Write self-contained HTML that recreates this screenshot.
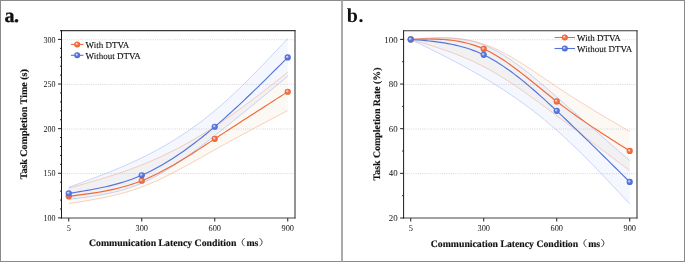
<!DOCTYPE html>
<html><head><meta charset="utf-8">
<style>
html,body{margin:0;padding:0;background:#fff;}
#wrap{position:relative;will-change:transform;width:685px;height:262px;overflow:hidden;background:#fff;}
svg{position:absolute;left:0;top:0;}
text{font-family:"Liberation Serif",serif;fill:#111;text-rendering:geometricPrecision;}
.tk{font-size:8px;}
.lg{font-size:9px;stroke:#111;stroke-width:0.1px;}
.al{font-size:10px;font-weight:bold;stroke:#111;stroke-width:0.15px;}
.xl{font-size:9.75px;}
.pl{font-size:20px;font-weight:bold;}
</style></head><body>
<div id="wrap">
<svg width="685" height="262" viewBox="0 0 685 262">
<rect x="0.5" y="0.5" width="684" height="261" fill="none" stroke="#8a8a8a" stroke-width="1"/>
<line x1="342.0" y1="0" x2="342.0" y2="262" stroke="#9c9c9c" stroke-width="1.7"/>
<text x="4.5" y="21.8" class="pl" stroke="#111" stroke-width="0.3"><tspan>a</tspan><tspan dx="-0.6">.</tspan></text>
<text x="346.7" y="21.8" class="pl"><tspan>b</tspan><tspan dx="0.6">.</tspan></text>
<defs>
<radialGradient id="g_orange" cx="0.5" cy="0.5" r="0.5" fx="0.36" fy="0.34">
<stop offset="0" stop-color="#FFFFFF"/><stop offset="0.22" stop-color="#F8B79E"/><stop offset="0.5" stop-color="#F27448"/><stop offset="1" stop-color="#EA5E2E"/>
</radialGradient>
<radialGradient id="g_blue" cx="0.5" cy="0.5" r="0.5" fx="0.36" fy="0.34">
<stop offset="0" stop-color="#FFFFFF"/><stop offset="0.22" stop-color="#AFC0F2"/><stop offset="0.5" stop-color="#5B7BE2"/><stop offset="1" stop-color="#4868D6"/>
</radialGradient>
</defs>
<line x1="62.5" y1="173.62" x2="294.0" y2="173.62" stroke="#D6D6D6" stroke-width="1" stroke-dasharray="1 1.2"/>
<line x1="62.5" y1="129.00" x2="294.0" y2="129.00" stroke="#D6D6D6" stroke-width="1" stroke-dasharray="1 1.2"/>
<line x1="62.5" y1="84.38" x2="294.0" y2="84.38" stroke="#D6D6D6" stroke-width="1" stroke-dasharray="1 1.2"/>
<line x1="62.5" y1="39.75" x2="294.0" y2="39.75" stroke="#D6D6D6" stroke-width="1" stroke-dasharray="1 1.2"/>
<path d="M68.75 187.29 L72.46 185.94 L76.17 184.60 L79.89 183.25 L83.60 181.89 L87.31 180.52 L91.02 179.14 L94.73 177.75 L98.44 176.34 L102.16 174.91 L105.87 173.46 L109.58 171.98 L113.29 170.48 L117.00 168.95 L120.72 167.39 L124.43 165.79 L128.14 164.16 L131.85 162.49 L135.56 160.78 L139.28 159.03 L142.99 157.23 L146.70 155.38 L150.41 153.49 L154.12 151.54 L157.83 149.54 L161.55 147.48 L165.26 145.36 L168.97 143.19 L172.68 140.95 L176.39 138.65 L180.11 136.29 L183.82 133.86 L187.53 131.35 L191.24 128.78 L194.95 126.14 L198.67 123.42 L202.38 120.62 L206.09 117.74 L209.80 114.78 L213.51 111.74 L217.22 108.62 L220.94 105.41 L224.65 102.12 L228.36 98.76 L232.07 95.34 L235.78 91.84 L239.50 88.29 L243.21 84.67 L246.92 81.01 L250.63 77.30 L254.34 73.54 L258.06 69.75 L261.77 65.92 L265.48 62.06 L269.19 58.17 L272.90 54.27 L276.61 50.34 L280.33 46.40 L284.04 42.46 L287.75 38.51 L287.75 76.26 L284.04 79.33 L280.33 82.40 L276.61 85.47 L272.90 88.54 L269.19 91.60 L265.48 94.66 L261.77 97.71 L258.06 100.76 L254.34 103.80 L250.63 106.83 L246.92 109.86 L243.21 112.88 L239.50 115.88 L235.78 118.88 L232.07 121.86 L228.36 124.83 L224.65 127.79 L220.94 130.74 L217.22 133.67 L213.51 136.58 L209.80 139.48 L206.09 142.35 L202.38 145.19 L198.67 148.00 L194.95 150.78 L191.24 153.51 L187.53 156.19 L183.82 158.81 L180.11 161.38 L176.39 163.88 L172.68 166.31 L168.97 168.67 L165.26 170.95 L161.55 173.14 L157.83 175.24 L154.12 177.25 L150.41 179.15 L146.70 180.95 L142.99 182.64 L139.28 184.22 L135.56 185.68 L131.85 187.03 L128.14 188.28 L124.43 189.44 L120.72 190.50 L117.00 191.48 L113.29 192.39 L109.58 193.22 L105.87 193.98 L102.16 194.69 L98.44 195.34 L94.73 195.95 L91.02 196.51 L87.31 197.03 L83.60 197.53 L79.89 198.00 L76.17 198.46 L72.46 198.90 L68.75 199.34 Z" fill="rgba(100,140,220,0.07)" stroke="none"/>
<path d="M68.75 188.18 L72.46 187.15 L76.17 186.11 L79.89 185.07 L83.60 184.02 L87.31 182.96 L91.02 181.89 L94.73 180.81 L98.44 179.71 L102.16 178.59 L105.87 177.45 L109.58 176.29 L113.29 175.10 L117.00 173.88 L120.72 172.64 L124.43 171.36 L128.14 170.04 L131.85 168.69 L135.56 167.30 L139.28 165.87 L142.99 164.39 L146.70 162.86 L150.41 161.29 L154.12 159.68 L157.83 158.01 L161.55 156.30 L165.26 154.54 L168.97 152.74 L172.68 150.89 L176.39 148.99 L180.11 147.04 L183.82 145.04 L187.53 143.00 L191.24 140.91 L194.95 138.76 L198.67 136.57 L202.38 134.33 L206.09 132.04 L209.80 129.70 L213.51 127.32 L217.22 124.88 L220.94 122.39 L224.65 119.86 L228.36 117.28 L232.07 114.66 L235.78 112.01 L239.50 109.32 L243.21 106.59 L246.92 103.84 L250.63 101.05 L254.34 98.25 L258.06 95.41 L261.77 92.56 L265.48 89.69 L269.19 86.81 L272.90 83.91 L276.61 81.00 L280.33 78.09 L284.04 75.17 L287.75 72.24 L287.75 110.53 L284.04 112.49 L280.33 114.44 L276.61 116.40 L272.90 118.36 L269.19 120.32 L265.48 122.28 L261.77 124.25 L258.06 126.22 L254.34 128.20 L250.63 130.19 L246.92 132.18 L243.21 134.17 L239.50 136.18 L235.78 138.19 L232.07 140.22 L228.36 142.25 L224.65 144.30 L220.94 146.35 L217.22 148.42 L213.51 150.50 L209.80 152.59 L206.09 154.68 L202.38 156.78 L198.67 158.88 L194.95 160.96 L191.24 163.04 L187.53 165.09 L183.82 167.12 L180.11 169.13 L176.39 171.10 L172.68 173.03 L168.97 174.92 L165.26 176.77 L161.55 178.56 L157.83 180.29 L154.12 181.96 L150.41 183.57 L146.70 185.10 L142.99 186.55 L139.28 187.93 L135.56 189.22 L131.85 190.44 L128.14 191.58 L124.43 192.66 L120.72 193.67 L117.00 194.62 L113.29 195.52 L109.58 196.37 L105.87 197.17 L102.16 197.92 L98.44 198.64 L94.73 199.33 L91.02 199.98 L87.31 200.61 L83.60 201.22 L79.89 201.81 L76.17 202.39 L72.46 202.96 L68.75 203.53 Z" fill="rgba(215,160,110,0.08)" stroke="none"/>
<path d="M68.75 187.29 L72.46 185.94 L76.17 184.60 L79.89 183.25 L83.60 181.89 L87.31 180.52 L91.02 179.14 L94.73 177.75 L98.44 176.34 L102.16 174.91 L105.87 173.46 L109.58 171.98 L113.29 170.48 L117.00 168.95 L120.72 167.39 L124.43 165.79 L128.14 164.16 L131.85 162.49 L135.56 160.78 L139.28 159.03 L142.99 157.23 L146.70 155.38 L150.41 153.49 L154.12 151.54 L157.83 149.54 L161.55 147.48 L165.26 145.36 L168.97 143.19 L172.68 140.95 L176.39 138.65 L180.11 136.29 L183.82 133.86 L187.53 131.35 L191.24 128.78 L194.95 126.14 L198.67 123.42 L202.38 120.62 L206.09 117.74 L209.80 114.78 L213.51 111.74 L217.22 108.62 L220.94 105.41 L224.65 102.12 L228.36 98.76 L232.07 95.34 L235.78 91.84 L239.50 88.29 L243.21 84.67 L246.92 81.01 L250.63 77.30 L254.34 73.54 L258.06 69.75 L261.77 65.92 L265.48 62.06 L269.19 58.17 L272.90 54.27 L276.61 50.34 L280.33 46.40 L284.04 42.46 L287.75 38.51" fill="none" stroke="#A8BBF0" stroke-width="0.6"/>
<path d="M68.75 199.34 L72.46 198.90 L76.17 198.46 L79.89 198.00 L83.60 197.53 L87.31 197.03 L91.02 196.51 L94.73 195.95 L98.44 195.34 L102.16 194.69 L105.87 193.98 L109.58 193.22 L113.29 192.39 L117.00 191.48 L120.72 190.50 L124.43 189.44 L128.14 188.28 L131.85 187.03 L135.56 185.68 L139.28 184.22 L142.99 182.64 L146.70 180.95 L150.41 179.15 L154.12 177.25 L157.83 175.24 L161.55 173.14 L165.26 170.95 L168.97 168.67 L172.68 166.31 L176.39 163.88 L180.11 161.38 L183.82 158.81 L187.53 156.19 L191.24 153.51 L194.95 150.78 L198.67 148.00 L202.38 145.19 L206.09 142.35 L209.80 139.48 L213.51 136.58 L217.22 133.67 L220.94 130.74 L224.65 127.79 L228.36 124.83 L232.07 121.86 L235.78 118.88 L239.50 115.88 L243.21 112.88 L246.92 109.86 L250.63 106.83 L254.34 103.80 L258.06 100.76 L261.77 97.71 L265.48 94.66 L269.19 91.60 L272.90 88.54 L276.61 85.47 L280.33 82.40 L284.04 79.33 L287.75 76.26" fill="none" stroke="#A8BBF0" stroke-width="0.6"/>
<path d="M68.75 188.18 L72.46 187.15 L76.17 186.11 L79.89 185.07 L83.60 184.02 L87.31 182.96 L91.02 181.89 L94.73 180.81 L98.44 179.71 L102.16 178.59 L105.87 177.45 L109.58 176.29 L113.29 175.10 L117.00 173.88 L120.72 172.64 L124.43 171.36 L128.14 170.04 L131.85 168.69 L135.56 167.30 L139.28 165.87 L142.99 164.39 L146.70 162.86 L150.41 161.29 L154.12 159.68 L157.83 158.01 L161.55 156.30 L165.26 154.54 L168.97 152.74 L172.68 150.89 L176.39 148.99 L180.11 147.04 L183.82 145.04 L187.53 143.00 L191.24 140.91 L194.95 138.76 L198.67 136.57 L202.38 134.33 L206.09 132.04 L209.80 129.70 L213.51 127.32 L217.22 124.88 L220.94 122.39 L224.65 119.86 L228.36 117.28 L232.07 114.66 L235.78 112.01 L239.50 109.32 L243.21 106.59 L246.92 103.84 L250.63 101.05 L254.34 98.25 L258.06 95.41 L261.77 92.56 L265.48 89.69 L269.19 86.81 L272.90 83.91 L276.61 81.00 L280.33 78.09 L284.04 75.17 L287.75 72.24" fill="none" stroke="#F4B094" stroke-width="0.6"/>
<path d="M68.75 203.53 L72.46 202.96 L76.17 202.39 L79.89 201.81 L83.60 201.22 L87.31 200.61 L91.02 199.98 L94.73 199.33 L98.44 198.64 L102.16 197.92 L105.87 197.17 L109.58 196.37 L113.29 195.52 L117.00 194.62 L120.72 193.67 L124.43 192.66 L128.14 191.58 L131.85 190.44 L135.56 189.22 L139.28 187.93 L142.99 186.55 L146.70 185.10 L150.41 183.57 L154.12 181.96 L157.83 180.29 L161.55 178.56 L165.26 176.77 L168.97 174.92 L172.68 173.03 L176.39 171.10 L180.11 169.13 L183.82 167.12 L187.53 165.09 L191.24 163.04 L194.95 160.96 L198.67 158.88 L202.38 156.78 L206.09 154.68 L209.80 152.59 L213.51 150.50 L217.22 148.42 L220.94 146.35 L224.65 144.30 L228.36 142.25 L232.07 140.22 L235.78 138.19 L239.50 136.18 L243.21 134.17 L246.92 132.18 L250.63 130.19 L254.34 128.20 L258.06 126.22 L261.77 124.25 L265.48 122.28 L269.19 120.32 L272.90 118.36 L276.61 116.40 L280.33 114.44 L284.04 112.49 L287.75 110.53" fill="none" stroke="#F4B094" stroke-width="0.6"/>
<path d="M68.75 193.40 L72.46 192.82 L76.17 192.23 L79.89 191.63 L83.60 191.01 L87.31 190.38 L91.02 189.72 L94.73 189.02 L98.44 188.29 L102.16 187.52 L105.87 186.69 L109.58 185.82 L113.29 184.89 L117.00 183.89 L120.72 182.83 L124.43 181.69 L128.14 180.47 L131.85 179.17 L135.56 177.77 L139.28 176.29 L142.99 174.70 L146.70 173.01 L150.41 171.21 L154.12 169.32 L157.83 167.34 L161.55 165.26 L165.26 163.09 L168.97 160.83 L172.68 158.49 L176.39 156.06 L180.11 153.56 L183.82 150.97 L187.53 148.31 L191.24 145.58 L194.95 142.77 L198.67 139.90 L202.38 136.96 L206.09 133.96 L209.80 130.90 L213.51 127.78 L217.22 124.61 L220.94 121.38 L224.65 118.10 L228.36 114.78 L232.07 111.41 L235.78 108.00 L239.50 104.55 L243.21 101.06 L246.92 97.54 L250.63 94.00 L254.34 90.42 L258.06 86.82 L261.77 83.19 L265.48 79.55 L269.19 75.89 L272.90 72.21 L276.61 68.52 L280.33 64.83 L284.04 61.13 L287.75 57.43" fill="none" stroke="#5474DC" stroke-width="1.15"/>
<path d="M68.75 196.30 L72.46 195.85 L76.17 195.39 L79.89 194.92 L83.60 194.43 L87.31 193.93 L91.02 193.39 L94.73 192.83 L98.44 192.23 L102.16 191.58 L105.87 190.89 L109.58 190.15 L113.29 189.35 L117.00 188.49 L120.72 187.55 L124.43 186.55 L128.14 185.46 L131.85 184.29 L135.56 183.04 L139.28 181.68 L142.99 180.23 L146.70 178.68 L150.41 177.03 L154.12 175.29 L157.83 173.47 L161.55 171.56 L165.26 169.58 L168.97 167.54 L172.68 165.43 L176.39 163.26 L180.11 161.05 L183.82 158.78 L187.53 156.48 L191.24 154.14 L194.95 151.77 L198.67 149.37 L202.38 146.96 L206.09 144.54 L209.80 142.11 L213.51 139.67 L217.22 137.24 L220.94 134.81 L224.65 132.39 L228.36 129.98 L232.07 127.56 L235.78 125.16 L239.50 122.75 L243.21 120.35 L246.92 117.96 L250.63 115.56 L254.34 113.17 L258.06 110.78 L261.77 108.40 L265.48 106.01 L269.19 103.63 L272.90 101.25 L276.61 98.87 L280.33 96.49 L284.04 94.11 L287.75 91.73" fill="none" stroke="#F06838" stroke-width="1.15"/>
<circle cx="68.75" cy="196.30" r="3.1" fill="url(#g_orange)"/>
<circle cx="141.75" cy="180.73" r="3.1" fill="url(#g_orange)"/>
<circle cx="214.75" cy="138.86" r="3.1" fill="url(#g_orange)"/>
<circle cx="287.75" cy="91.73" r="3.1" fill="url(#g_orange)"/>
<circle cx="68.75" cy="193.40" r="3.1" fill="url(#g_blue)"/>
<circle cx="141.75" cy="175.24" r="3.1" fill="url(#g_blue)"/>
<circle cx="214.75" cy="126.73" r="3.1" fill="url(#g_blue)"/>
<circle cx="287.75" cy="57.43" r="3.1" fill="url(#g_blue)"/>
<line x1="60.00" y1="30.60" x2="295.50" y2="30.60" stroke="#3a3a3a" stroke-width="1.1"/>
<line x1="295.00" y1="30.10" x2="295.00" y2="218.50" stroke="#3a3a3a" stroke-width="1.1"/>
<line x1="61.00" y1="218.00" x2="295.50" y2="218.00" stroke="#444" stroke-width="1"/>
<line x1="61.50" y1="30.10" x2="61.50" y2="218.50" stroke="#1a1a1a" stroke-width="1"/>
<line x1="58.0" y1="217.90" x2="61.5" y2="217.90" stroke="#222" stroke-width="1"/>
<text transform="translate(55.5 217.95) scale(1.000 1.12)" y="2.75" class="tk" text-anchor="end">100</text>
<line x1="60.0" y1="208.97" x2="61.5" y2="208.97" stroke="#222" stroke-width="1"/>
<line x1="60.0" y1="200.05" x2="61.5" y2="200.05" stroke="#222" stroke-width="1"/>
<line x1="60.0" y1="191.12" x2="61.5" y2="191.12" stroke="#222" stroke-width="1"/>
<line x1="60.0" y1="182.20" x2="61.5" y2="182.20" stroke="#222" stroke-width="1"/>
<line x1="58.0" y1="173.28" x2="61.5" y2="173.28" stroke="#222" stroke-width="1"/>
<text transform="translate(55.5 173.33) scale(1.000 1.12)" y="2.75" class="tk" text-anchor="end">150</text>
<line x1="60.0" y1="164.35" x2="61.5" y2="164.35" stroke="#222" stroke-width="1"/>
<line x1="60.0" y1="155.43" x2="61.5" y2="155.43" stroke="#222" stroke-width="1"/>
<line x1="60.0" y1="146.50" x2="61.5" y2="146.50" stroke="#222" stroke-width="1"/>
<line x1="60.0" y1="137.57" x2="61.5" y2="137.57" stroke="#222" stroke-width="1"/>
<line x1="58.0" y1="128.65" x2="61.5" y2="128.65" stroke="#222" stroke-width="1"/>
<text transform="translate(55.5 128.70) scale(1.000 1.12)" y="2.75" class="tk" text-anchor="end">200</text>
<line x1="60.0" y1="119.73" x2="61.5" y2="119.73" stroke="#222" stroke-width="1"/>
<line x1="60.0" y1="110.80" x2="61.5" y2="110.80" stroke="#222" stroke-width="1"/>
<line x1="60.0" y1="101.88" x2="61.5" y2="101.88" stroke="#222" stroke-width="1"/>
<line x1="60.0" y1="92.95" x2="61.5" y2="92.95" stroke="#222" stroke-width="1"/>
<line x1="58.0" y1="84.03" x2="61.5" y2="84.03" stroke="#222" stroke-width="1"/>
<text transform="translate(55.5 84.08) scale(1.000 1.12)" y="2.75" class="tk" text-anchor="end">250</text>
<line x1="60.0" y1="75.10" x2="61.5" y2="75.10" stroke="#222" stroke-width="1"/>
<line x1="60.0" y1="66.18" x2="61.5" y2="66.18" stroke="#222" stroke-width="1"/>
<line x1="60.0" y1="57.25" x2="61.5" y2="57.25" stroke="#222" stroke-width="1"/>
<line x1="60.0" y1="48.33" x2="61.5" y2="48.33" stroke="#222" stroke-width="1"/>
<line x1="58.0" y1="39.40" x2="61.5" y2="39.40" stroke="#222" stroke-width="1"/>
<text transform="translate(55.5 39.45) scale(1.000 1.12)" y="2.75" class="tk" text-anchor="end">300</text>
<line x1="68.75" y1="218.0" x2="68.75" y2="221.5" stroke="#222" stroke-width="1"/>
<text transform="translate(68.75 227.60) scale(1.04 1.12)" y="2.75" class="tk" text-anchor="middle">5</text>
<line x1="141.75" y1="218.0" x2="141.75" y2="221.5" stroke="#222" stroke-width="1"/>
<text transform="translate(141.75 227.60) scale(1.04 1.12)" y="2.75" class="tk" text-anchor="middle">300</text>
<line x1="214.75" y1="218.0" x2="214.75" y2="221.5" stroke="#222" stroke-width="1"/>
<text transform="translate(214.75 227.60) scale(1.04 1.12)" y="2.75" class="tk" text-anchor="middle">600</text>
<line x1="287.75" y1="218.0" x2="287.75" y2="221.5" stroke="#222" stroke-width="1"/>
<text transform="translate(287.75 227.60) scale(1.04 1.12)" y="2.75" class="tk" text-anchor="middle">900</text>
<text x="89.00" y="246.20" class="al xl">Communication Latency Condition</text>
<text x="246.40" y="246.20" class="al xl">ms</text>
<path d="M244.60 238.20 Q239.40 242.20 244.60 246.20" fill="none" stroke="#333" stroke-width="0.9"/>
<path d="M259.60 238.20 Q264.80 242.20 259.60 246.20" fill="none" stroke="#333" stroke-width="0.9"/>
<text transform="translate(26.9 124.30) rotate(-90)" class="al" text-anchor="middle" style="font-size:10.00px">Task Completion Time (s)</text>
<line x1="70.9" y1="44.4" x2="83.5" y2="44.4" stroke="#F06838" stroke-width="1.1"/>
<circle cx="77.2" cy="44.4" r="3.0" fill="url(#g_orange)"/>
<text x="85.50" y="47.80" class="lg">With DTVA</text>
<line x1="70.9" y1="55.3" x2="83.5" y2="55.3" stroke="#5474DC" stroke-width="1.1"/>
<circle cx="77.2" cy="55.3" r="3.0" fill="url(#g_blue)"/>
<text x="85.50" y="58.75" class="lg">Without DTVA</text>
<line x1="404.6" y1="173.70" x2="636.0" y2="173.70" stroke="#D6D6D6" stroke-width="1" stroke-dasharray="1 1.2"/>
<line x1="404.6" y1="129.05" x2="636.0" y2="129.05" stroke="#D6D6D6" stroke-width="1" stroke-dasharray="1 1.2"/>
<line x1="404.6" y1="84.40" x2="636.0" y2="84.40" stroke="#D6D6D6" stroke-width="1" stroke-dasharray="1 1.2"/>
<line x1="404.6" y1="39.75" x2="636.0" y2="39.75" stroke="#D6D6D6" stroke-width="1" stroke-dasharray="1 1.2"/>
<path d="M410.72 39.40 L414.43 39.10 L418.14 38.80 L421.86 38.52 L425.57 38.27 L429.28 38.06 L432.99 37.89 L436.70 37.78 L440.41 37.73 L444.13 37.75 L447.84 37.86 L451.55 38.06 L455.26 38.36 L458.97 38.77 L462.69 39.30 L466.40 39.95 L470.11 40.75 L473.82 41.69 L477.53 42.78 L481.25 44.04 L484.96 45.48 L488.67 47.09 L492.38 48.87 L496.09 50.81 L499.80 52.89 L503.52 55.12 L507.23 57.48 L510.94 59.96 L514.65 62.55 L518.36 65.25 L522.08 68.04 L525.79 70.92 L529.50 73.88 L533.21 76.90 L536.92 79.98 L540.64 83.10 L544.35 86.27 L548.06 89.47 L551.77 92.69 L555.48 95.92 L559.19 99.16 L562.91 102.39 L566.62 105.63 L570.33 108.86 L574.04 112.10 L577.75 115.33 L581.47 118.57 L585.18 121.80 L588.89 125.04 L592.60 128.27 L596.31 131.51 L600.03 134.74 L603.74 137.98 L607.45 141.21 L611.16 144.45 L614.87 147.68 L618.58 150.92 L622.30 154.15 L626.01 157.39 L629.72 160.62 L629.72 203.94 L626.01 199.95 L622.30 195.98 L618.58 192.01 L614.87 188.05 L611.16 184.10 L607.45 180.18 L603.74 176.27 L600.03 172.40 L596.31 168.55 L592.60 164.73 L588.89 160.95 L585.18 157.21 L581.47 153.51 L577.75 149.87 L574.04 146.27 L570.33 142.73 L566.62 139.24 L562.91 135.82 L559.19 132.46 L555.48 129.17 L551.77 125.96 L548.06 122.81 L544.35 119.73 L540.64 116.72 L536.92 113.77 L533.21 110.89 L529.50 108.06 L525.79 105.30 L522.08 102.59 L518.36 99.94 L514.65 97.34 L510.94 94.80 L507.23 92.30 L503.52 89.86 L499.80 87.46 L496.09 85.11 L492.38 82.80 L488.67 80.53 L484.96 78.31 L481.25 76.12 L477.53 73.97 L473.82 71.86 L470.11 69.78 L466.40 67.73 L462.69 65.71 L458.97 63.72 L455.26 61.75 L451.55 59.80 L447.84 57.88 L444.13 55.98 L440.41 54.09 L436.70 52.22 L432.99 50.36 L429.28 48.52 L425.57 46.68 L421.86 44.86 L418.14 43.03 L414.43 41.22 L410.72 39.40 Z" fill="rgba(100,140,220,0.07)" stroke="none"/>
<path d="M410.72 39.40 L414.43 39.13 L418.14 38.87 L421.86 38.63 L425.57 38.41 L429.28 38.22 L432.99 38.07 L436.70 37.97 L440.41 37.92 L444.13 37.94 L447.84 38.02 L451.55 38.19 L455.26 38.44 L458.97 38.79 L462.69 39.24 L466.40 39.79 L470.11 40.47 L473.82 41.27 L477.53 42.21 L481.25 43.29 L484.96 44.51 L488.67 45.89 L492.38 47.41 L496.09 49.06 L499.80 50.84 L503.52 52.73 L507.23 54.73 L510.94 56.82 L514.65 58.99 L518.36 61.24 L522.08 63.56 L525.79 65.94 L529.50 68.36 L533.21 70.83 L536.92 73.32 L540.64 75.83 L544.35 78.36 L548.06 80.88 L551.77 83.40 L555.48 85.90 L559.19 88.37 L562.91 90.82 L566.62 93.24 L570.33 95.63 L574.04 97.99 L577.75 100.34 L581.47 102.66 L585.18 104.96 L588.89 107.25 L592.60 109.51 L596.31 111.77 L600.03 114.01 L603.74 116.23 L607.45 118.45 L611.16 120.65 L614.87 122.85 L618.58 125.05 L622.30 127.23 L626.01 129.42 L629.72 131.60 L629.72 170.67 L626.01 167.87 L622.30 165.08 L618.58 162.28 L614.87 159.48 L611.16 156.69 L607.45 153.89 L603.74 151.10 L600.03 148.30 L596.31 145.51 L592.60 142.71 L588.89 139.92 L585.18 137.13 L581.47 134.34 L577.75 131.54 L574.04 128.75 L570.33 125.97 L566.62 123.18 L562.91 120.39 L559.19 117.61 L555.48 114.82 L551.77 112.04 L548.06 109.27 L544.35 106.51 L540.64 103.76 L536.92 101.03 L533.21 98.33 L529.50 95.65 L525.79 93.01 L522.08 90.41 L518.36 87.84 L514.65 85.32 L510.94 82.85 L507.23 80.43 L503.52 78.07 L499.80 75.77 L496.09 73.54 L492.38 71.38 L488.67 69.30 L484.96 67.29 L481.25 65.36 L477.53 63.52 L473.82 61.75 L470.11 60.06 L466.40 58.44 L462.69 56.88 L458.97 55.38 L455.26 53.93 L451.55 52.54 L447.84 51.20 L444.13 49.89 L440.41 48.63 L436.70 47.40 L432.99 46.20 L429.28 45.03 L425.57 43.88 L421.86 42.74 L418.14 41.62 L414.43 40.51 L410.72 39.40 Z" fill="rgba(215,160,110,0.08)" stroke="none"/>
<path d="M410.72 39.40 L414.43 39.10 L418.14 38.80 L421.86 38.52 L425.57 38.27 L429.28 38.06 L432.99 37.89 L436.70 37.78 L440.41 37.73 L444.13 37.75 L447.84 37.86 L451.55 38.06 L455.26 38.36 L458.97 38.77 L462.69 39.30 L466.40 39.95 L470.11 40.75 L473.82 41.69 L477.53 42.78 L481.25 44.04 L484.96 45.48 L488.67 47.09 L492.38 48.87 L496.09 50.81 L499.80 52.89 L503.52 55.12 L507.23 57.48 L510.94 59.96 L514.65 62.55 L518.36 65.25 L522.08 68.04 L525.79 70.92 L529.50 73.88 L533.21 76.90 L536.92 79.98 L540.64 83.10 L544.35 86.27 L548.06 89.47 L551.77 92.69 L555.48 95.92 L559.19 99.16 L562.91 102.39 L566.62 105.63 L570.33 108.86 L574.04 112.10 L577.75 115.33 L581.47 118.57 L585.18 121.80 L588.89 125.04 L592.60 128.27 L596.31 131.51 L600.03 134.74 L603.74 137.98 L607.45 141.21 L611.16 144.45 L614.87 147.68 L618.58 150.92 L622.30 154.15 L626.01 157.39 L629.72 160.62" fill="none" stroke="#A8BBF0" stroke-width="0.6"/>
<path d="M410.72 39.40 L414.43 41.22 L418.14 43.03 L421.86 44.86 L425.57 46.68 L429.28 48.52 L432.99 50.36 L436.70 52.22 L440.41 54.09 L444.13 55.98 L447.84 57.88 L451.55 59.80 L455.26 61.75 L458.97 63.72 L462.69 65.71 L466.40 67.73 L470.11 69.78 L473.82 71.86 L477.53 73.97 L481.25 76.12 L484.96 78.31 L488.67 80.53 L492.38 82.80 L496.09 85.11 L499.80 87.46 L503.52 89.86 L507.23 92.30 L510.94 94.80 L514.65 97.34 L518.36 99.94 L522.08 102.59 L525.79 105.30 L529.50 108.06 L533.21 110.89 L536.92 113.77 L540.64 116.72 L544.35 119.73 L548.06 122.81 L551.77 125.96 L555.48 129.17 L559.19 132.46 L562.91 135.82 L566.62 139.24 L570.33 142.73 L574.04 146.27 L577.75 149.87 L581.47 153.51 L585.18 157.21 L588.89 160.95 L592.60 164.73 L596.31 168.55 L600.03 172.40 L603.74 176.27 L607.45 180.18 L611.16 184.10 L614.87 188.05 L618.58 192.01 L622.30 195.98 L626.01 199.95 L629.72 203.94" fill="none" stroke="#A8BBF0" stroke-width="0.6"/>
<path d="M410.72 39.40 L414.43 39.13 L418.14 38.87 L421.86 38.63 L425.57 38.41 L429.28 38.22 L432.99 38.07 L436.70 37.97 L440.41 37.92 L444.13 37.94 L447.84 38.02 L451.55 38.19 L455.26 38.44 L458.97 38.79 L462.69 39.24 L466.40 39.79 L470.11 40.47 L473.82 41.27 L477.53 42.21 L481.25 43.29 L484.96 44.51 L488.67 45.89 L492.38 47.41 L496.09 49.06 L499.80 50.84 L503.52 52.73 L507.23 54.73 L510.94 56.82 L514.65 58.99 L518.36 61.24 L522.08 63.56 L525.79 65.94 L529.50 68.36 L533.21 70.83 L536.92 73.32 L540.64 75.83 L544.35 78.36 L548.06 80.88 L551.77 83.40 L555.48 85.90 L559.19 88.37 L562.91 90.82 L566.62 93.24 L570.33 95.63 L574.04 97.99 L577.75 100.34 L581.47 102.66 L585.18 104.96 L588.89 107.25 L592.60 109.51 L596.31 111.77 L600.03 114.01 L603.74 116.23 L607.45 118.45 L611.16 120.65 L614.87 122.85 L618.58 125.05 L622.30 127.23 L626.01 129.42 L629.72 131.60" fill="none" stroke="#F4B094" stroke-width="0.6"/>
<path d="M410.72 39.40 L414.43 40.51 L418.14 41.62 L421.86 42.74 L425.57 43.88 L429.28 45.03 L432.99 46.20 L436.70 47.40 L440.41 48.63 L444.13 49.89 L447.84 51.20 L451.55 52.54 L455.26 53.93 L458.97 55.38 L462.69 56.88 L466.40 58.44 L470.11 60.06 L473.82 61.75 L477.53 63.52 L481.25 65.36 L484.96 67.29 L488.67 69.30 L492.38 71.38 L496.09 73.54 L499.80 75.77 L503.52 78.07 L507.23 80.43 L510.94 82.85 L514.65 85.32 L518.36 87.84 L522.08 90.41 L525.79 93.01 L529.50 95.65 L533.21 98.33 L536.92 101.03 L540.64 103.76 L544.35 106.51 L548.06 109.27 L551.77 112.04 L555.48 114.82 L559.19 117.61 L562.91 120.39 L566.62 123.18 L570.33 125.97 L574.04 128.75 L577.75 131.54 L581.47 134.34 L585.18 137.13 L588.89 139.92 L592.60 142.71 L596.31 145.51 L600.03 148.30 L603.74 151.10 L607.45 153.89 L611.16 156.69 L614.87 159.48 L618.58 162.28 L622.30 165.08 L626.01 167.87 L629.72 170.67" fill="none" stroke="#F4B094" stroke-width="0.6"/>
<path d="M410.72 39.40 L414.43 39.69 L418.14 39.98 L421.86 40.29 L425.57 40.63 L429.28 40.99 L432.99 41.40 L436.70 41.85 L440.41 42.35 L444.13 42.92 L447.84 43.56 L451.55 44.27 L455.26 45.07 L458.97 45.96 L462.69 46.95 L466.40 48.05 L470.11 49.27 L473.82 50.61 L477.53 52.08 L481.25 53.69 L484.96 55.45 L488.67 57.36 L492.38 59.41 L496.09 61.60 L499.80 63.92 L503.52 66.36 L507.23 68.91 L510.94 71.58 L514.65 74.35 L518.36 77.22 L522.08 80.17 L525.79 83.21 L529.50 86.33 L533.21 89.51 L536.92 92.76 L540.64 96.06 L544.35 99.41 L548.06 102.81 L551.77 106.24 L555.48 109.70 L559.19 113.19 L562.91 116.69 L566.62 120.21 L570.33 123.75 L574.04 127.31 L577.75 130.88 L581.47 134.47 L585.18 138.07 L588.89 141.68 L592.60 145.31 L596.31 148.94 L600.03 152.58 L603.74 156.24 L607.45 159.90 L611.16 163.56 L614.87 167.23 L618.58 170.91 L622.30 174.58 L626.01 178.26 L629.72 181.95" fill="none" stroke="#5474DC" stroke-width="1.15"/>
<path d="M410.72 39.40 L414.43 39.29 L418.14 39.20 L421.86 39.12 L425.57 39.07 L429.28 39.05 L432.99 39.09 L436.70 39.17 L440.41 39.33 L444.13 39.55 L447.84 39.86 L451.55 40.26 L455.26 40.76 L458.97 41.37 L462.69 42.10 L466.40 42.96 L470.11 43.95 L473.82 45.10 L477.53 46.40 L481.25 47.86 L484.96 49.50 L488.67 51.31 L492.38 53.29 L496.09 55.42 L499.80 57.70 L503.52 60.10 L507.23 62.61 L510.94 65.23 L514.65 67.95 L518.36 70.74 L522.08 73.60 L525.79 76.52 L529.50 79.48 L533.21 82.47 L536.92 85.49 L540.64 88.51 L544.35 91.53 L548.06 94.53 L551.77 97.50 L555.48 100.43 L559.19 103.31 L562.91 106.14 L566.62 108.91 L570.33 111.63 L574.04 114.31 L577.75 116.95 L581.47 119.54 L585.18 122.10 L588.89 124.63 L592.60 127.12 L596.31 129.58 L600.03 132.02 L603.74 134.44 L607.45 136.83 L611.16 139.21 L614.87 141.57 L618.58 143.92 L622.30 146.26 L626.01 148.60 L629.72 150.94" fill="none" stroke="#F06838" stroke-width="1.15"/>
<circle cx="410.72" cy="39.40" r="3.1" fill="url(#g_orange)"/>
<circle cx="483.72" cy="48.93" r="3.1" fill="url(#g_orange)"/>
<circle cx="556.72" cy="101.40" r="3.1" fill="url(#g_orange)"/>
<circle cx="629.72" cy="150.94" r="3.1" fill="url(#g_orange)"/>
<circle cx="410.72" cy="39.40" r="3.1" fill="url(#g_blue)"/>
<circle cx="483.72" cy="54.85" r="3.1" fill="url(#g_blue)"/>
<circle cx="556.72" cy="110.86" r="3.1" fill="url(#g_blue)"/>
<circle cx="629.72" cy="181.95" r="3.1" fill="url(#g_blue)"/>
<line x1="403.60" y1="30.70" x2="637.50" y2="30.70" stroke="#3a3a3a" stroke-width="1.1"/>
<line x1="637.00" y1="30.20" x2="637.00" y2="218.50" stroke="#3a3a3a" stroke-width="1.1"/>
<line x1="403.10" y1="218.00" x2="637.50" y2="218.00" stroke="#444" stroke-width="1"/>
<line x1="403.60" y1="30.20" x2="403.60" y2="218.50" stroke="#1a1a1a" stroke-width="1"/>
<line x1="400.1" y1="218.00" x2="403.6" y2="218.00" stroke="#222" stroke-width="1"/>
<text transform="translate(397.6 218.05) scale(1.110 1.12)" y="2.75" class="tk" text-anchor="end">20</text>
<line x1="402.1" y1="195.68" x2="403.6" y2="195.68" stroke="#222" stroke-width="1"/>
<line x1="400.1" y1="173.35" x2="403.6" y2="173.35" stroke="#222" stroke-width="1"/>
<text transform="translate(397.6 173.40) scale(1.110 1.12)" y="2.75" class="tk" text-anchor="end">40</text>
<line x1="402.1" y1="151.03" x2="403.6" y2="151.03" stroke="#222" stroke-width="1"/>
<line x1="400.1" y1="128.70" x2="403.6" y2="128.70" stroke="#222" stroke-width="1"/>
<text transform="translate(397.6 128.75) scale(1.110 1.12)" y="2.75" class="tk" text-anchor="end">60</text>
<line x1="402.1" y1="106.38" x2="403.6" y2="106.38" stroke="#222" stroke-width="1"/>
<line x1="400.1" y1="84.05" x2="403.6" y2="84.05" stroke="#222" stroke-width="1"/>
<text transform="translate(397.6 84.10) scale(1.110 1.12)" y="2.75" class="tk" text-anchor="end">80</text>
<line x1="402.1" y1="61.72" x2="403.6" y2="61.72" stroke="#222" stroke-width="1"/>
<line x1="400.1" y1="39.40" x2="403.6" y2="39.40" stroke="#222" stroke-width="1"/>
<text transform="translate(397.6 39.45) scale(1.110 1.12)" y="2.75" class="tk" text-anchor="end">100</text>
<line x1="410.72" y1="218.0" x2="410.72" y2="221.5" stroke="#222" stroke-width="1"/>
<text transform="translate(410.72 227.60) scale(1.04 1.12)" y="2.75" class="tk" text-anchor="middle">5</text>
<line x1="483.72" y1="218.0" x2="483.72" y2="221.5" stroke="#222" stroke-width="1"/>
<text transform="translate(483.72 227.60) scale(1.04 1.12)" y="2.75" class="tk" text-anchor="middle">300</text>
<line x1="556.72" y1="218.0" x2="556.72" y2="221.5" stroke="#222" stroke-width="1"/>
<text transform="translate(556.72 227.60) scale(1.04 1.12)" y="2.75" class="tk" text-anchor="middle">600</text>
<line x1="629.72" y1="218.0" x2="629.72" y2="221.5" stroke="#222" stroke-width="1"/>
<text transform="translate(629.72 227.60) scale(1.04 1.12)" y="2.75" class="tk" text-anchor="middle">900</text>
<text x="430.80" y="247.10" class="al xl">Communication Latency Condition</text>
<text x="588.20" y="247.10" class="al xl">ms</text>
<path d="M586.40 239.10 Q581.20 243.10 586.40 247.10" fill="none" stroke="#333" stroke-width="0.9"/>
<path d="M601.40 239.10 Q606.60 243.10 601.40 247.10" fill="none" stroke="#333" stroke-width="0.9"/>
<text transform="translate(380.1 123.95) rotate(-90)" class="al" text-anchor="middle" style="font-size:9.88px">Task Completion Rate (%)</text>
<line x1="554.5" y1="37.5" x2="575.0" y2="37.5" stroke="#F06838" stroke-width="1.1"/>
<circle cx="564.8" cy="37.5" r="3.0" fill="url(#g_orange)"/>
<text x="577.00" y="40.90" class="lg">With DTVA</text>
<line x1="554.5" y1="48.5" x2="575.0" y2="48.5" stroke="#5474DC" stroke-width="1.1"/>
<circle cx="564.8" cy="48.5" r="3.0" fill="url(#g_blue)"/>
<text x="577.00" y="51.85" class="lg">Without DTVA</text>
</svg>
</div>
</body></html>
